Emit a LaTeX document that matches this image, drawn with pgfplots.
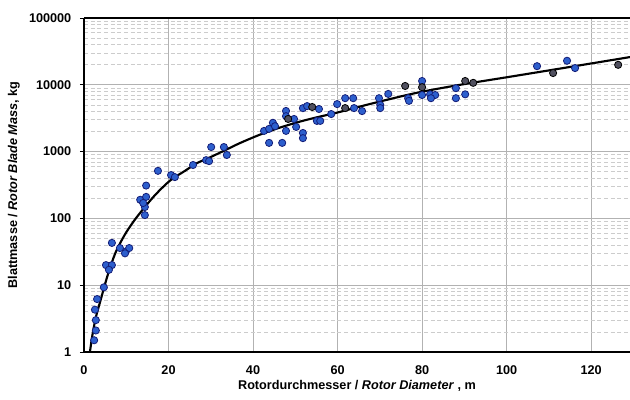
\documentclass[border=0pt]{standalone}
\usepackage{pgfplots}
\pgfplotsset{compat=1.18}
\usepackage{fontspec}
\setmainfont{Liberation Sans}
\usetikzlibrary{calc}
\definecolor{ptblue}{RGB}{45,95,205}
\definecolor{ptedge}{RGB}{20,30,120}
\definecolor{ptdark}{RGB}{80,80,95}
\begin{document}
\begin{tikzpicture}
\begin{axis}[
  scale only axis,
  width=409.5pt, height=250.5pt,
  xmin=0, xmax=129.2,
  ymode=log, ymin=1, ymax=100000,
  axis lines=left,
  axis line style={line width=1.6pt, -},
  xtick={0,20,40,60,80,100,120},
  xticklabels={0,20,40,60,80,100,120},
  ytick={1,10,100,1000,10000,100000},
  yticklabels={1,10,100,1000,10000,100000},
  x tick style={draw=none},
  y tick style={black, line width=0.6pt},
  minor y tick style={draw=none},
  tick align=outside,
  major tick length=3pt,
  ymajorgrids, xmajorgrids, yminorgrids,
  major grid style={gray!60, line width=0.5pt},
  minor grid style={gray!40, densely dashed, line width=0.5pt},
  tick label style={font=\bfseries\fontsize{9.5}{11}\selectfont},
  xticklabel style={yshift=-4pt},
  yticklabel style={xshift=-3pt},
  xlabel={\bfseries Rotordurchmesser / \textit{Rotor Diameter} , m},
  ylabel={\bfseries Blattmasse / \textit{Rotor Blade Mass}, kg},
  label style={font=\bfseries\fontsize{9.5}{11}\selectfont},
  xlabel style={yshift=3pt},
  ylabel style={yshift=0pt},
  clip=true,
]
\addplot[only marks, mark=*, mark size=2.7pt, mark options={fill=ptblue, draw=ptedge, line width=0.6pt}] table {
x y
2.4 1.5
2.8 2.1
2.8 3.0
2.6 4.3
3.1 6.2
4.7 9.3
5.2 20
6.6 20
5.9 17
9.9 32
6.6 43
10.7 36
9.7 30
8.5 36
14.4 112
14.4 148
13.3 190
14.7 210
14.0 170
14.7 310
17.5 515
20.6 445
21.5 415
25.8 630
28.9 745
29.6 720
30.1 1170
33.1 1170
33.8 890
43.8 1350
46.9 1350
42.6 2040
43.8 2190
44.7 2700
45.2 2400
47.8 4060
47.8 3390
49.7 3080
47.8 2040
50.2 2340
51.8 1900
51.8 1590
51.8 4470
52.8 4800
55.6 4340
55.1 2880
55.9 2880
58.5 3650
59.9 5140
61.8 6300
63.7 6300
63.9 4480
65.8 4040
69.8 6300
70.1 5000
70.1 4480
72.0 7300
76.7 6300
76.9 5750
80.0 11400
80.0 7030
81.9 7200
83.1 7030
82.1 6300
88.0 8900
88.0 6300
90.2 7200
107.2 19000
114.3 22900
116.2 17800
};
\addplot[only marks, mark=*, mark size=2.7pt, mark options={fill=ptdark, draw=black, line width=0.6pt}] table {
x y
48.3 3080
54.0 4650
61.8 4480
76.0 9600
80.0 9200
90.2 11400
92.1 10700
111.0 15000
126.4 19900
};
\addplot[black, line width=1.6pt, smooth] table {
x y
1.4 1
2.0 1.8
2.8 3.3
4.0 6.2
5.0 10.5
6.0 17
7.3 29
8.5 42
10.0 62
12.0 95
14.4 148
17.0 230
20.4 370
24.0 520
26.7 670
30.0 830
33.4 1050
37.0 1350
41.7 1800
46.0 2250
51.0 2800
55.0 3250
60.0 3850
68.4 5300
78.8 7600
89.0 10000
100.8 13200
115.0 18500
129.2 26000
};
\end{axis}
\draw[line width=1.6pt] (current axis.north west) -- (current axis.north east);
\pgfresetboundingbox
\path ($(current axis.south west)+(-63pt,-35.25pt)$) rectangle ($(current axis.north east)+(0pt,13.5pt)$);
\end{tikzpicture}
\end{document}
